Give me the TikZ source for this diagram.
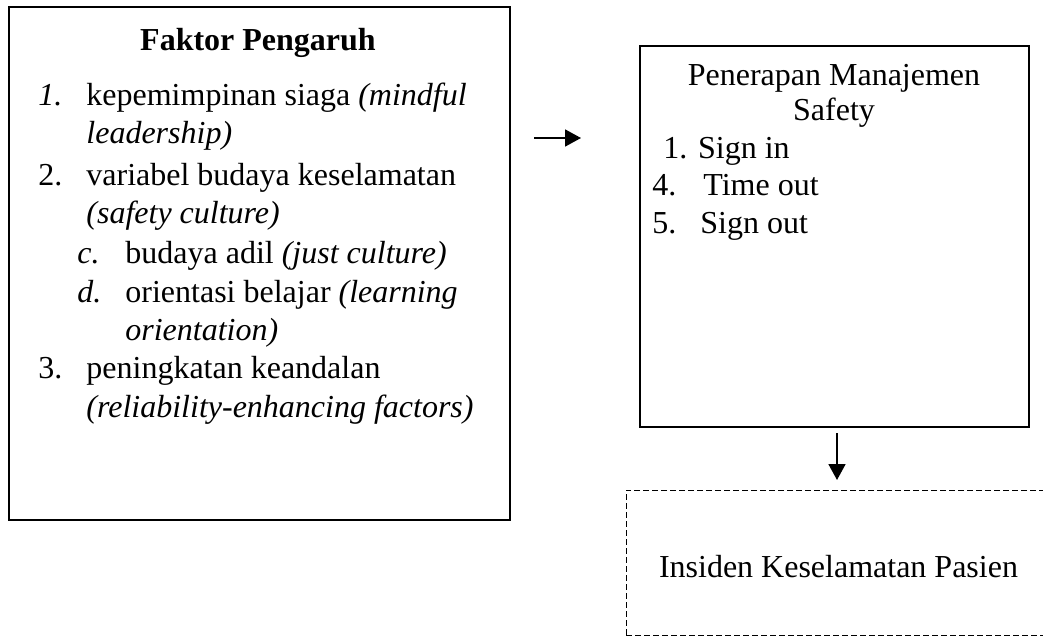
\documentclass[tikz,border=0pt]{standalone}
\usepackage{fontspec}
\setmainfont{Liberation Serif}
\usetikzlibrary{positioning, arrows.meta}
\tikzset{
  box/.style={draw, line width=1pt, inner sep=0pt},
  dashbox/.style={draw, line width=0.5pt, dash pattern=on 3pt off 1.5pt, inner sep=0pt},
  txt/.style={anchor=base west, inner sep=0pt, font=\fontsize{16}{19}\selectfont},
  ctxt/.style={txt, anchor=base},
  arr/.style={-{Triangle[length=8pt,width=8.5pt]}, line width=0.9pt},
  x=0.5pt, y=-0.5pt
}

\begin{document}
\begin{tikzpicture}
      \useasboundingbox (0,0) rectangle (1043,637);
      \clip (0,0) rectangle (1043,637);

      % boxes
      \node[box, minimum width=250.5pt, minimum height=256.5pt] (faktor) at (259.5,263.5) {};
      \node[box, minimum width=194.5pt, minimum height=190.5pt] (safety) at (834.5,236.5) {};
      \node[dashbox, minimum width=217pt, minimum height=72.5pt] (insiden) at (843,562.5) {};

      % faktor pengaruh
      \node[ctxt] (judul) at (258,50) {\textbf{Faktor Pengaruh}};
      \node[txt] (n1) at (38,105) {\textit{1.}};
      \node[txt] (t1) at (86,105) {kepemimpinan siaga \textit{(mindful}};
      \node[txt] (t1b) at (86,143) {\textit{leadership)}};
      \node[txt] (n2) at (38,185) {2.};
      \node[txt] (t2) at (86,185) {variabel budaya keselamatan};
      \node[txt] (t2b) at (86,223) {\textit{(safety culture)}};
      \node[txt] (nc) at (77,263) {\textit{c.}};
      \node[txt] (tc) at (125,263) {budaya adil \textit{(just culture)}};
      \node[txt] (nd) at (77,302) {\textit{d.}};
      \node[txt] (td) at (125,302) {orientasi belajar \textit{(learning}};
      \node[txt] (tdb) at (125,340) {\textit{orientation)}};
      \node[txt] (n3) at (38,378) {3.};
      \node[txt] (t3) at (86,378) {peningkatan keandalan};
      \node[txt] (t3b) at (86,417) {\textit{(reliability-enhancing factors)}};

      % penerapan
      \node[ctxt] (pjudul) at (834,85) {Penerapan Manajemen};
      \node[ctxt] (pjudulb) at (834,120) {Safety};
      \node[txt] (s1) at (663,158) {1. Sign in};
      \node[txt] (m4) at (652,195) {4.};
      \node[txt] (s4) at (703,195) {Time out};
      \node[txt] (m5) at (652,233) {5.};
      \node[txt] (s5) at (700,233) {Sign out};

      % insiden
      \node[ctxt] (itext) at (838.5,577) {Insiden Keselamatan Pasien};

      \draw[arr, shorten <=11.5pt, shorten >=29pt] (faktor.east |- 0,138) -- (safety.west |- 0,138);
      \draw[arr, shorten <=3pt, shorten >=5pt] (837,427) -- (837,490);
\end{tikzpicture}
\end{document}
